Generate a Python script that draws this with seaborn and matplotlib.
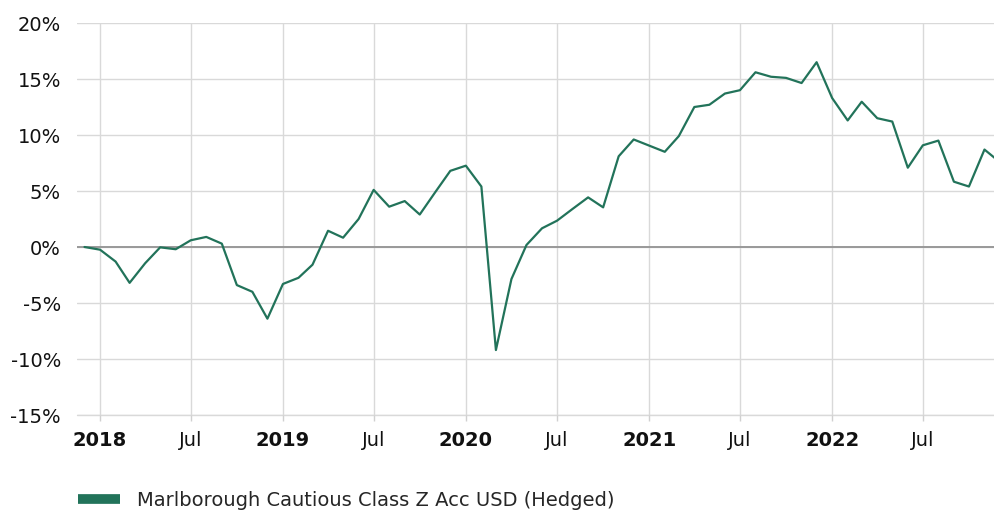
import numpy as np
import pandas as pd
import matplotlib
matplotlib.use("Agg")
import matplotlib.pyplot as plt
import matplotlib.dates as mdates
from matplotlib.lines import Line2D
import seaborn as sns

# monthly cumulative performance, Dec 2017 .. Dec 2022 (%)
start_month = "2017-12-01"
performance = [
    0.0, -0.24, -1.3, -3.2, -1.45, -0.03, -0.2, 0.6, 0.9, 0.3, -3.4, -4.0,
    -6.4, -3.3, -2.75, -1.58, 1.45, 0.83, 2.5, 5.1, 3.6, 4.1, 2.9, 4.9,
    6.8, 7.26, 5.4, -9.2, -2.86, 0.18, 1.67, 2.35, 3.4, 4.43, 3.54, 8.1,
    9.6, 9.05, 8.5, 9.9, 12.5, 12.7, 13.7, 14.0, 15.6, 15.2, 15.1, 14.64,
    16.5, 13.3, 11.3, 12.97, 11.5, 11.2, 7.08, 9.08, 9.5, 5.83, 5.4, 8.7,
    7.6,
]
series_name = "Marlborough Cautious Class Z Acc USD (Hedged)"
y_ticks = [-15, -10, -5, 0, 5, 10, 15, 20]
year_ticks = ["2018-01-01", "2019-01-01", "2020-01-01", "2021-01-01", "2022-01-01"]
jul_ticks = ["2018-07-01", "2019-07-01", "2020-07-01", "2021-07-01", "2022-07-01"]

line_color = "#22735A"
grid_color = "#d9d9d9"

df = pd.DataFrame({
    "date": pd.date_range(start_month, periods=len(performance), freq="MS"),
    "value": performance,
})

sns.set_style("white")
plt.rcParams["font.family"] = ["DejaVu Sans"]

fig = plt.figure(figsize=(9.95, 5.11), dpi=100)
ax = fig.add_axes([77 / 995, 1 - 415 / 511, 918 / 995, 392 / 511])

sns.lineplot(data=df, x="date", y="value", ax=ax, color=line_color,
             linewidth=1.6, zorder=3)

ax.set_xlim(pd.Timestamp("2017-11-16"), pd.Timestamp("2022-11-22"))
ax.set_ylim(-15, 20)
ax.set_yticks(y_ticks)
ax.set_yticklabels([f"{v}%" for v in y_ticks])

xt_sorted = sorted(pd.Timestamp(d) for d in year_ticks + jul_ticks)
ax.set_xticks([mdates.date2num(d) for d in xt_sorted])
ax.set_xticklabels([str(d.year) if d.month == 1 else "Jul" for d in xt_sorted])
for lab, d in zip(ax.get_xticklabels(), xt_sorted):
    if d.month == 1:
        lab.set_fontweight("bold")

for s in ax.spines.values():
    s.set_visible(False)

ax.grid(True, color=grid_color, linewidth=1.0, zorder=0)
ax.axhline(-15, color=grid_color, linewidth=1.0, zorder=0, clip_on=False)
ax.axhline(0, color="#999999", linewidth=1.4, zorder=2)

ax.tick_params(axis="y", length=0, pad=11.5, labelsize=14, colors="#111111")
ax.tick_params(axis="x", length=4.5, width=1, color="#d0d0d0", pad=7,
               labelsize=14, labelcolor="#111111", direction="out", bottom=True)
ax.set_xlabel("")
ax.set_ylabel("")

handle = Line2D([0], [0], color=line_color, linewidth=7, solid_capstyle="butt")
fig.legend([handle], [series_name], loc="center left",
           bbox_to_anchor=(78 / 995, 1 - 500 / 511), frameon=False,
           fontsize=14, handlelength=2.16, handletextpad=0.88,
           borderpad=0, borderaxespad=0)

fig.savefig("out.png", dpi=100)
